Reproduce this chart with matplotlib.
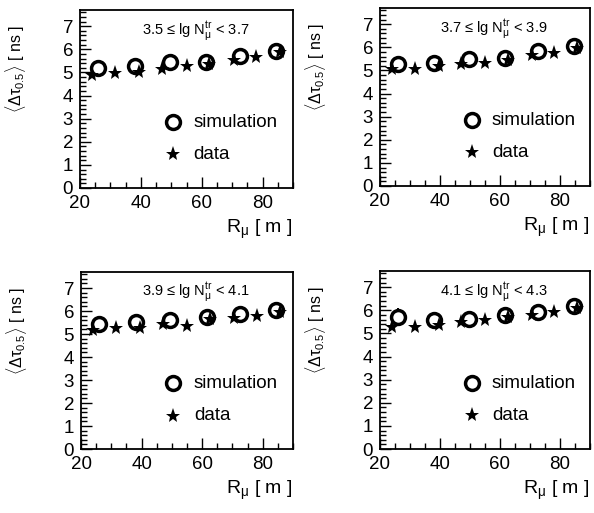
import matplotlib
matplotlib.use("Agg")
import matplotlib.pyplot as plt
from matplotlib.ticker import MultipleLocator

plt.rcParams['font.family'] = ['Liberation Sans', 'DejaVu Sans']
plt.rcParams['mathtext.fontset'] = 'custom'
plt.rcParams['mathtext.rm'] = 'Liberation Sans'
plt.rcParams['mathtext.it'] = 'Liberation Sans'
plt.rcParams['mathtext.bf'] = 'Liberation Sans:bold'

# muon number bins, lg N_mu^tr
bin_labels = ["3.5", "3.7", "3.9", "4.1", "4.3"]

# simulation: mean time spread vs. distance to shower core
sim_r = [26, 38, 49.5, 61.5, 72.5, 84.5]
sim_tau = [
    [5.17, 5.28, 5.45, 5.47, 5.72, 5.92],
    [5.27, 5.34, 5.48, 5.53, 5.82, 6.04],
    [5.45, 5.52, 5.6, 5.74, 5.86, 6.04],
    [5.7, 5.57, 5.63, 5.8, 5.92, 6.17],
]
sim_err = [
    [0, 0, 0, 0, 0, 0],
    [0, 0, 0, 0, 0, 0],
    [0, 0, 0, 0, 0, 0],
    [0.38, 0, 0, 0, 0, 0],
]

# measured data
dat_r = [24, 31.5, 39.5, 47, 55, 62.5, 70.5, 78, 85.8]
dat_tau = [
    [4.9, 4.97, 5.0, 5.14, 5.28, 5.36, 5.55, 5.68, 5.88],
    [5.05, 5.08, 5.18, 5.27, 5.34, 5.47, 5.66, 5.76, 5.98],
    [5.18, 5.25, 5.28, 5.42, 5.34, 5.65, 5.7, 5.77, 5.95],
    [5.28, 5.27, 5.38, 5.5, 5.56, 5.72, 5.78, 5.92, 6.09],
]

fig = plt.figure(figsize=(5.94, 5.13), dpi=100)

W, H = 594.0, 513.0
boxes = [(80, 10, 293, 188), (380, 8, 590, 186),
         (81, 272, 293, 449), (380, 271, 590, 449)]

for i, (x0, y0, x1, y1) in enumerate(boxes):
    ax = fig.add_axes([x0 / W, 1 - y1 / H, (x1 - x0) / W, (y1 - y0) / H])
    ax.set_xlim(20, 90)
    ax.set_ylim(0, 7.7)

    ax.errorbar(sim_r, sim_tau[i], yerr=sim_err[i], fmt='o', ms=10,
                mfc='white', mec='black', mew=2.5, ecolor='black',
                elinewidth=1.4, capsize=0, zorder=2)
    ax.plot(dat_r, dat_tau[i], '*', ms=11, color='black', mew=0, zorder=3)

    # legend drawn by hand, ROOT style
    ax.plot([50.5], [2.85], 'o', ms=10, mfc='white', mec='black', mew=2.5)
    ax.text(57.3, 2.85, "simulation", fontsize=13.5, va='center', ha='left')
    ax.plot([50.5], [1.45], '*', ms=11, color='black', mew=0)
    ax.text(57.3, 1.45, "data", fontsize=13.5, va='center', ha='left')

    ax.text(58, 6.8,
            bin_labels[i] + " \u2264 lg N$_{\\mu}^{\\rm tr}$ < " + bin_labels[i + 1],
            fontsize=10.5, ha='center', va='center')

    ax.xaxis.set_major_locator(MultipleLocator(20))
    ax.xaxis.set_minor_locator(MultipleLocator(5))
    ax.yaxis.set_major_locator(MultipleLocator(1))
    ax.yaxis.set_minor_locator(MultipleLocator(0.2))
    ax.tick_params(which='both', direction='in', top=False, right=False,
                   labelsize=13.5, width=1.0)
    ax.tick_params(which='major', length=8, pad=5)
    ax.tick_params(which='minor', length=4)
    for s in ax.spines.values():
        s.set_linewidth(1.3)

    ax.text(-0.305, 0.915, r"$\langle\Delta\tau_{0.5}\rangle$ [ ns ]",
            transform=ax.transAxes, rotation=90, ha='center', va='top',
            fontsize=11.5)
    ax.text(1.0, -0.235, r"R$_{\mu}$ [ m ]", transform=ax.transAxes,
            ha='right', va='center', fontsize=14)

fig.savefig("out.png", dpi=100)
